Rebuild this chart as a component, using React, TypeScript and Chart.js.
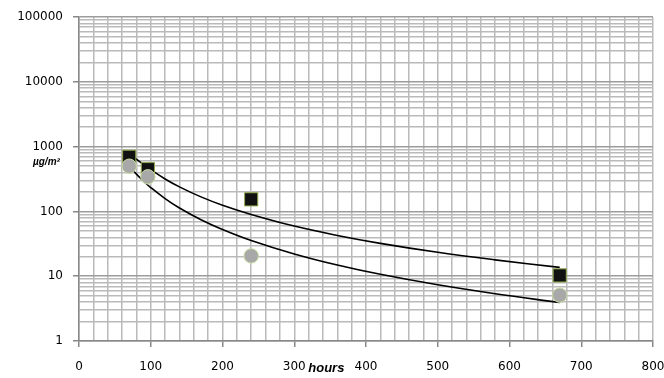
import React, { useEffect, useRef } from "react";
import { Chart, registerables } from "chart.js";

Chart.register(...registerables);

// Measured data (hours vs concentration)
const hoursSquares = [70, 96, 240, 670];
const valuesSquares = [700, 450, 154, 10.3];
const hoursCircles = [70, 96, 240, 670];
const valuesCircles = [500, 343, 20.6, 5.1];

// Trend curves
const trendHours = [70, 80, 90, 100, 120, 140, 170, 200, 240, 300, 360, 420, 500, 580, 670];
const upperTrend = [760, 640, 530, 443, 318, 240, 168, 125, 90, 59.5, 42.7, 32.2, 23.4, 17.9, 13.7];
const lowerTrend = [503, 377, 293, 234, 158, 113, 74.7, 52.8, 35.7, 22.1, 14.9, 10.7, 7.37, 5.37, 3.93];

const yDecades = [1, 10, 100, 1000, 10000, 100000];
const xMin = 0;
const xMax = 800;
const xLabelStep = 100;
const xGridStep = 20;
const xTitle = "hours";
const yTitle = "µg/m²";

const isDecade = (v: number) => yDecades.includes(v);

const pts = (xs: number[], ys: number[]) => xs.map((x, i) => ({ x, y: ys[i] }));

const titlePlugin = {
  id: "axisTitles",
  afterDraw(chart: any) {
    const { ctx, scales } = chart;
    const xs = scales.x;
    const ys = scales.y;
    ctx.save();
    ctx.fillStyle = "#000";
    ctx.font = "italic bold 13px 'Liberation Sans'";
    ctx.textAlign = "left";
    ctx.textBaseline = "middle";
    ctx.fillText(xTitle, xs.getPixelForValue(300) + 14, 368);
    ctx.font = "italic bold 10px 'Liberation Sans'";
    ctx.fillText(yTitle, 33, ys.getPixelForValue(1000) + 16);
    ctx.restore();
  },
};

export default function App() {
  const ref = useRef<HTMLCanvasElement>(null);
  useEffect(() => {
    document.body.style.margin = "0";
    const canvas = ref.current!;
    const chart = new Chart(canvas, {
      type: "scatter",
      data: {
        datasets: [
          {
            data: pts(trendHours, upperTrend),
            showLine: true,
            borderColor: "#000",
            borderWidth: 1.6,
            pointRadius: 0,
            tension: 0.4,
            order: 3,
          },
          {
            data: pts(trendHours, lowerTrend),
            showLine: true,
            borderColor: "#000",
            borderWidth: 1.6,
            pointRadius: 0,
            tension: 0.4,
            order: 3,
          },
          {
            data: pts(hoursSquares, valuesSquares),
            pointStyle: "rect",
            pointRadius: 9.3,
            backgroundColor: "#111111",
            borderColor: "#8fa84a",
            borderWidth: 1,
            order: 2,
          },
          {
            data: pts(hoursCircles, valuesCircles),
            pointStyle: "circle",
            pointRadius: 7.2,
            backgroundColor: "#a8a8a8",
            borderColor: "#c8dca0",
            borderWidth: 1,
            order: 1,
          },
        ],
      },
      options: {
        responsive: false,
        animation: false,
        devicePixelRatio: 1,
        layout: { padding: { top: 12, right: 0, left: 0, bottom: 0 } },
        plugins: {
          legend: { display: false },
          tooltip: { enabled: false },
        },
        scales: {
          x: {
            type: "linear",
            min: xMin,
            max: xMax,
            border: { color: "#888", width: 1.5 },
            grid: {
              color: "#bababa",
              lineWidth: 1.5,
              tickLength: 6,
              tickColor: (c: any) =>
                c.tick && c.tick.value % xLabelStep === 0 ? "#888" : "rgba(0,0,0,0)",
            },
            ticks: {
              stepSize: xGridStep,
              autoSkip: false,
              maxRotation: 0,
              padding: 13,
              color: "#000",
              font: { family: "'DejaVu Sans'", size: 12 },
              callback: (v: any) => (Number(v) % xLabelStep === 0 ? String(v) : ""),
            },
            afterFit: (s: any) => {
              s.height = 37;
              s.paddingRight = 11;
              s.paddingLeft = 0;
            },
          },
          y: {
            type: "logarithmic",
            min: 1,
            max: 100000,
            border: { color: "#888", width: 1.5 },
            grid: {
              color: (c: any) => (c.tick && isDecade(c.tick.value) ? "#9c9c9c" : "#bababa"),
              lineWidth: 1.5,
              tickLength: 6,
              tickColor: (c: any) =>
                c.tick && isDecade(c.tick.value) ? "#888" : "rgba(0,0,0,0)",
            },
            afterBuildTicks: (s: any) => {
              const t: any[] = [];
              for (let d = 0; d < yDecades.length - 1; d++) {
                for (let m = 1; m <= 9; m++) t.push({ value: m * yDecades[d] });
              }
              t.push({ value: yDecades[yDecades.length - 1] });
              s.ticks = t;
            },
            ticks: {
              autoSkip: false,
              padding: 10,
              color: "#000",
              font: { family: "'DejaVu Sans'", size: 12 },
              callback: (v: any) => (isDecade(Number(v)) ? String(v) : ""),
            },
            afterFit: (s: any) => {
              s.width = 79;
            },
          },
        },
      },
      plugins: [titlePlugin],
    });
    return () => chart.destroy();
  }, []);
  return <canvas ref={ref} width={664} height={378} style={{ display: "block" }} />;
}
